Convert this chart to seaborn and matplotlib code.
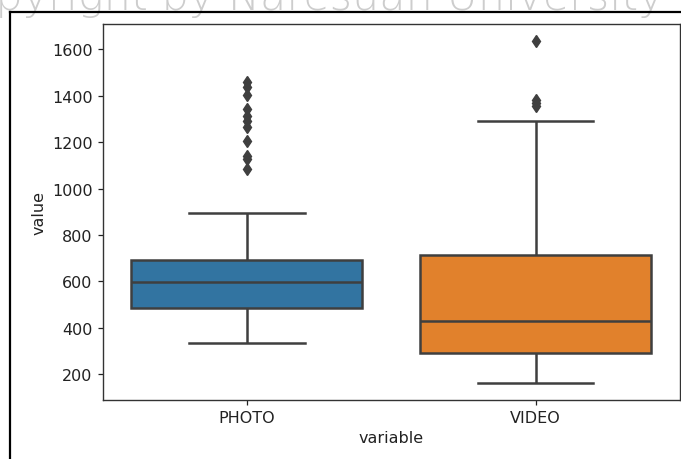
import matplotlib
matplotlib.use("Agg")
import matplotlib.pyplot as plt
from matplotlib.lines import Line2D
import pandas as pd
import seaborn as sns

# Engagement values per post type
categories = ["PHOTO", "VIDEO"]
photo_values = [
    333, 352, 371, 390, 405, 418, 429, 440, 449, 457, 464, 470, 476, 481, 485,
    492, 500, 509, 517, 525, 533, 541, 549, 557, 565, 573, 581, 589, 596,
    602, 608, 615, 622, 630, 638, 646, 654, 662, 670, 677, 684, 689, 693,
    738, 805, 893, 1083, 1126, 1140, 1206, 1264, 1293, 1314, 1343, 1404, 1438, 1460,
]
video_values = [
    162, 178, 195, 212, 228, 242, 254, 265, 275, 283, 290,
    304, 322, 339, 356, 372, 387, 401, 413, 422, 430,
    459, 491, 524, 556, 589, 621, 652, 679, 700, 713,
    782, 861, 946, 1032, 1121, 1291, 1355, 1368, 1380, 1636,
]
box_colors = ["#1f77b4", "#ff7f0e"]

df = pd.DataFrame({
    "variable": [categories[0]] * len(photo_values) + [categories[1]] * len(video_values),
    "value": photo_values + video_values,
})

W, H = 681, 460
fig = plt.figure(figsize=(W / 100, H / 100), dpi=100)
ax = fig.add_axes([102.5 / W, (H - 401) / H, (680 - 102.5) / W, (401 - 25) / H])

line_gray = "#3f3f3f"
sns.boxplot(
    data=df, x="variable", y="value", hue="variable",
    palette=box_colors, saturation=0.75, legend=False,
    linecolor=line_gray, linewidth=1.8, fliersize=6,
    flierprops={"marker": "d", "markerfacecolor": line_gray,
                "markeredgecolor": line_gray},
    ax=ax,
)

for s in ax.spines.values():
    s.set_linewidth(1.0)
    s.set_color("#333333")
ax.tick_params(labelsize=11.5, length=3.6, width=0.9, colors="#222222")
ax.set_xlabel("variable", fontsize=11.5, color="#222222")
ax.set_ylabel("value", fontsize=11.5, color="#222222")

# watermark across the top
fig.text(664 / W, 1 - 10 / H, "Copyright by Naresuan University", ha="right",
         va="baseline", fontsize=31, color="#cdcdcd", fontweight="light",
         family="DejaVu Sans", zorder=0)

# outer frame
def px_line(x0, y0, x1, y1):
    fig.add_artist(Line2D([x0 / W, x1 / W], [1 - y0 / H, 1 - y1 / H],
                          transform=fig.transFigure, color="black",
                          linewidth=1.6, zorder=5))

px_line(10, 13, W, 13)
px_line(10, 13, 10, H)

fig.savefig("out.png", dpi=100)
